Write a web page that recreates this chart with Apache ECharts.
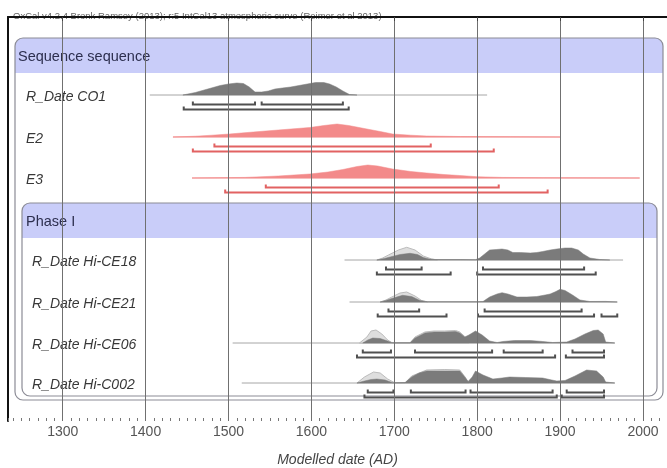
<!DOCTYPE html>
<html><head><meta charset="utf-8">
<script src="https://cdn.jsdelivr.net/npm/echarts@6/dist/echarts.min.js"></script>
<style>html,body{margin:0;padding:0;background:#fff}#c{width:667px;height:468px}</style>
</head><body><div id="c"></div>
<script>
// ---------------- DATA ----------------
const titleText = 'OxCal v4.2.4 Bronk Ramsey (2013); r:5 IntCal13 atmospheric curve (Reimer et al 2013)';
const axisName = 'Modelled date (AD)';
const tickYears = [1300, 1400, 1500, 1600, 1700, 1800, 1900, 2000];
const groupNames = ['Sequence sequence', 'Phase I'];
const rowNames = ['R_Date CO1', 'E2', 'E3', 'R_Date Hi-CE18', 'R_Date Hi-CE21', 'R_Date Hi-CE06', 'R_Date Hi-C002'];

// extent of each thin distribution line (years AD)
const co1Span = [1405, 1812];
const e2Span = [1433, 1900];
const e3Span = [1456, 1996];
const ce18Span = [1640, 1976];
const ce21Span = [1646, 1969];
const ce06Span = [1505, 1966];
const c002Span = [1516, 1966];

// posterior densities [year, relative probability]
const co1Post = [[1445,0],[1460,2.5],[1475,6],[1490,9.5],[1500,11],[1510,12],[1518,11.5],[1525,8],[1532,3],[1540,3],[1548,4],[1556,6],[1565,7],[1575,8],[1585,9.5],[1595,11],[1605,12.5],[1615,12.5],[1622,11],[1630,8],[1638,4],[1646,0.5],[1655,0]];
const e2Post = [[1433,0],[1460,0.8],[1480,1.8],[1501,3],[1530,5],[1560,7],[1598,9.5],[1615,11.5],[1631,13],[1645,11.5],[1667,8],[1683,5.5],[1698,3],[1720,1.8],[1739,1],[1780,0.5],[1840,0.3],[1900,0]];
const e3Post = [[1456,0],[1520,0.6],[1560,2],[1598,4],[1620,6],[1638,8.5],[1655,11.5],[1668,13],[1680,12],[1698,9],[1720,6.5],[1739,5],[1760,3.5],[1779,2.5],[1800,1.3],[1830,0.6],[1880,0.3],[1996,0]];
const ce18Post = [[1679,0],[1688,1.5],[1695,3],[1707,5.5],[1719,6.7],[1728,5.5],[1735,2.5],[1742,1],[1750,0.5],[1780,0.5],[1798,0.3],[1803,2],[1809,6],[1815,10],[1823,10.5],[1830,11],[1837,10],[1843,7.5],[1852,7.5],[1864,7],[1872,7.5],[1879,8.5],[1888,10],[1896,11],[1906,12],[1914,12],[1922,10],[1928,6],[1936,2],[1948,0.5],[1960,0]];
const ce21Post = [[1683,0],[1690,1.5],[1697,3.5],[1710,6.7],[1721,5.5],[1731,1.5],[1740,0.3],[1800,0.3],[1807,0.5],[1815,5],[1824,8],[1830,9.3],[1837,8],[1848,5],[1860,5],[1872,5.5],[1882,7],[1888,8],[1895,10.5],[1900,12.7],[1906,11.5],[1915,7],[1924,2],[1936,0.5],[1955,0.6],[1969,0]];
const ce06Post = [[1662,0],[1668,3],[1674,5],[1683,4.5],[1692,2],[1697,0.3],[1719,0.3],[1725,5],[1737,10],[1748,11],[1761,11],[1774,11.5],[1779,10],[1785,6],[1790,8],[1798,12],[1806,8],[1815,2],[1824,0.5],[1831,1.5],[1845,2.5],[1864,2.5],[1879,1.5],[1891,0.5],[1908,1],[1918,4],[1930,9],[1940,12.5],[1946,13],[1952,9],[1955,1],[1966,0]];
const c002Post = [[1655,0],[1664,2],[1672,3.5],[1679,4],[1689,3],[1698,0.3],[1713,0.5],[1721,6],[1730,10],[1739,12],[1761,12],[1779,12],[1785,6],[1789,1.5],[1794,6],[1798,12],[1807,8],[1819,4],[1830,5],[1839,6],[1858,5.5],[1879,5],[1890,3],[1896,2],[1906,2.5],[1918,7],[1932,13],[1944,12],[1952,6],[1955,1],[1966,0]];

// unmodelled likelihoods (light grey)
const ce18Like = [[1679,0],[1686,2],[1693,5],[1705,10],[1715,12.7],[1725,10],[1735,4],[1745,1],[1752,0]];
const ce21Like = [[1683,0],[1690,2],[1697,5],[1707,9],[1715,10],[1725,6],[1733,1.5],[1740,0]];
const ce06Like = [[1658,0],[1667,6],[1672,12],[1678,13],[1685,9],[1692,3],[1697,0.5],[1700,0],[1719,0],[1725,6],[1737,11],[1748,12],[1761,12],[1774,12.5],[1779,11],[1785,6.5],[1790,0]];
const c002Like = [[1655,0],[1664,6],[1675,11],[1683,10],[1692,4],[1700,0.5],[1705,0],[1713,0],[1721,7],[1739,13],[1761,13.5],[1779,13],[1785,6.5],[1790,0]];

// 68.2% and 95.4% ranges
const co1R68 = [[1457,1532],[1540,1638]];
const co1R95 = [[1446,1645]];
const e2R68 = [[1483,1744]];
const e2R95 = [[1457,1820]];
const e3R68 = [[1545,1826]];
const e3R95 = [[1496,1885]];
const ce18R68 = [[1690,1733],[1807,1929]];
const ce18R95 = [[1679,1768],[1800,1943]];
const ce21R68 = [[1693,1730],[1809,1926]];
const ce21R95 = [[1680,1763],[1801,1941],[1950,1969]];
const ce06R68 = [[1662,1696],[1725,1818],[1832,1879],[1915,1953]];
const ce06R95 = [[1655,1894],[1907,1953]];
const c002R68 = [[1668,1699],[1720,1786],[1792,1891],[1908,1953]];
const c002R95 = [[1664,1896],[1902,1953]];

// ---------------- LAYOUT / STYLE ----------------
const FONT = '"Liberation Sans", Arial, sans-serif';
const GREY = { fill: '#7b7b7b', thin: '#a6a6a6', bracket: '#505050' };
const RED = { fill: '#f38a8a', thin: '#f4a3a3', bracket: '#e26262' };
const rows = [
  { name: rowNames[0], span: co1Span, post: co1Post, r68: co1R68, r95: co1R95, c: GREY, base: 78, indent: 18 },
  { name: rowNames[1], span: e2Span, post: e2Post, r68: e2R68, r95: e2R95, c: RED, base: 120, indent: 18 },
  { name: rowNames[2], span: e3Span, post: e3Post, r68: e3R68, r95: e3R95, c: RED, base: 161, indent: 18 },
  { name: rowNames[3], span: ce18Span, post: ce18Post, like: ce18Like, r68: ce18R68, r95: ce18R95, c: GREY, base: 243, indent: 24 },
  { name: rowNames[4], span: ce21Span, post: ce21Post, like: ce21Like, r68: ce21R68, r95: ce21R95, c: GREY, base: 285, indent: 24 },
  { name: rowNames[5], span: ce06Span, post: ce06Post, like: ce06Like, r68: ce06R68, r95: ce06R95, c: GREY, base: 326, indent: 24 },
  { name: rowNames[6], span: c002Span, post: c002Post, like: c002Like, r68: c002R68, r95: c002R95, c: GREY, base: 366, indent: 24 }
];
const groups = [
  { name: groupNames[0], top: 21, band: 56, bottom: 383, inL: 7, inR: 4, textX: 10 },
  { name: groupNames[1], top: 186, band: 221, bottom: 379, inL: 14, inR: 10, textX: 18 }
];

const chart = echarts.init(document.getElementById('c'), null, { renderer: 'canvas' });

function renderGroup(params, api) {
  const g = groups[params.dataIndex];
  const cs = params.coordSys;
  const x0 = cs.x + g.inL, x1 = cs.x + cs.width - g.inR;
  const yT = api.coord([1500, g.top])[1];
  const yB = api.coord([1500, g.band])[1];
  const yE = api.coord([1500, g.bottom])[1];
  const yL = api.coord([1500, (g.top + g.band) / 2 + 1])[1];
  return {
    type: 'group',
    children: [
      { type: 'rect', shape: { x: x0, y: yT, width: x1 - x0, height: yE - yT, r: 8 }, style: { fill: '#ffffff', stroke: null } },
      { type: 'rect', shape: { x: x0, y: yT, width: x1 - x0, height: yB - yT, r: [8, 8, 0, 0] }, style: { fill: '#c9cdf9', stroke: null } },
      { type: 'rect', shape: { x: x0, y: yT, width: x1 - x0, height: yE - yT, r: 8 }, style: { fill: null, stroke: '#8c8c96', lineWidth: 1.2 } },
      { type: 'text', x: cs.x + g.textX, y: yL, style: { text: g.name, fill: '#2d2f4f', font: '14.5px ' + FONT, verticalAlign: 'middle', align: 'left' } }
    ]
  };
}

function poly(pts, base, api, style) {
  const p = [api.coord([pts[0][0], base])];
  pts.forEach(d => p.push(api.coord([d[0], base - d[1]])));
  p.push(api.coord([pts[pts.length - 1][0], base]));
  return { type: 'polygon', shape: { points: p }, style: style };
}

function bracket(rg, y, api, color) {
  const a = api.coord([rg[0], y]), b = api.coord([rg[1], y]);
  return { type: 'polyline', shape: { points: [[a[0], a[1] - 3], a, b, [b[0], b[1] - 3]] }, style: { stroke: color, lineWidth: 2, fill: null } };
}

function renderRow(params, api) {
  const r = rows[params.dataIndex];
  const cs = params.coordSys;
  const ch = [];
  const a = api.coord([r.span[0], r.base]), b = api.coord([r.span[1], r.base]);
  ch.push({ type: 'line', shape: { x1: a[0], y1: a[1], x2: b[0], y2: b[1] }, style: { stroke: r.c.thin, lineWidth: 1 } });
  if (r.like) ch.push(poly(r.like, r.base, api, { fill: '#dedede', stroke: '#bcbcbc', lineWidth: 1 }));
  ch.push(poly(r.post, r.base, api, { fill: r.c.fill, stroke: r.c.fill, lineWidth: 0.5 }));
  r.r68.forEach(rg => ch.push(bracket(rg, r.base + 9.5, api, r.c.bracket)));
  r.r95.forEach(rg => ch.push(bracket(rg, r.base + 14.5, api, r.c.bracket)));
  const ly = api.coord([r.span[0], r.base + 2])[1];
  ch.push({ type: 'text', x: cs.x + r.indent, y: ly, style: { text: r.name, fill: '#383838', font: 'italic 14px ' + FONT, verticalAlign: 'middle', align: 'left' } });
  return { type: 'group', children: ch };
}

const option = {
  animation: false,
  backgroundColor: '#ffffff',
  title: { text: titleText, left: 8, top: 6, textStyle: { fontSize: 9.5, color: '#666', fontWeight: 'normal', fontFamily: FONT } },
  grid: { left: 8, right: 0, top: 17, bottom: 47, containLabel: false, outerBoundsMode: 'none' },
  xAxis: [
    {
      type: 'value', min: 1234, max: 2029, minInterval: 100, maxInterval: 100, position: 'bottom', z: 10,
      name: axisName, nameLocation: 'middle', nameGap: 32,
      nameTextStyle: { fontSize: 14, fontStyle: 'italic', color: '#444', fontFamily: FONT },
      axisLine: { show: true, lineStyle: { color: '#111', width: 2 } },
      axisTick: { show: true, length: 4, lineStyle: { color: '#444', width: 1 } },
      axisLabel: { show: true, fontSize: 14, color: '#555', fontFamily: FONT, margin: 4, showMinLabel: false, showMaxLabel: false,
        formatter: v => tickYears.indexOf(v) >= 0 ? String(v) : '' },
      splitLine: { show: true, showMinLine: false, showMaxLine: false, lineStyle: { color: '#707070', width: 1 } }
    },
    {
      type: 'value', min: 1234, max: 2029, minInterval: 10, maxInterval: 10, position: 'bottom', z: 9,
      axisLine: { show: false }, axisLabel: { show: false }, splitLine: { show: false },
      axisTick: { show: true, inside: true, length: 3, lineStyle: { color: '#777', width: 1 } }
    },
    {
      type: 'value', min: 1234, max: 2029, position: 'top', z: 9,
      axisLine: { show: true, lineStyle: { color: '#333', width: 1.5 } },
      axisLabel: { show: false }, axisTick: { show: false }, splitLine: { show: false }
    }
  ],
  yAxis: {
    type: 'value', inverse: true, min: 0, max: 404, z: 9,
    axisLine: { show: true, lineStyle: { color: '#111', width: 2 } },
    axisTick: { show: false }, axisLabel: { show: false }, splitLine: { show: false }
  },
  series: [
    { type: 'custom', z: 1, silent: true, renderItem: renderGroup, data: groups.map((g, i) => [1500, i]), clip: false },
    { type: 'custom', z: 2, silent: true, renderItem: renderRow, data: rows.map((r, i) => [r.span[0], i]), clip: false }
  ]
};
chart.setOption(option);
</script>
</body></html>
